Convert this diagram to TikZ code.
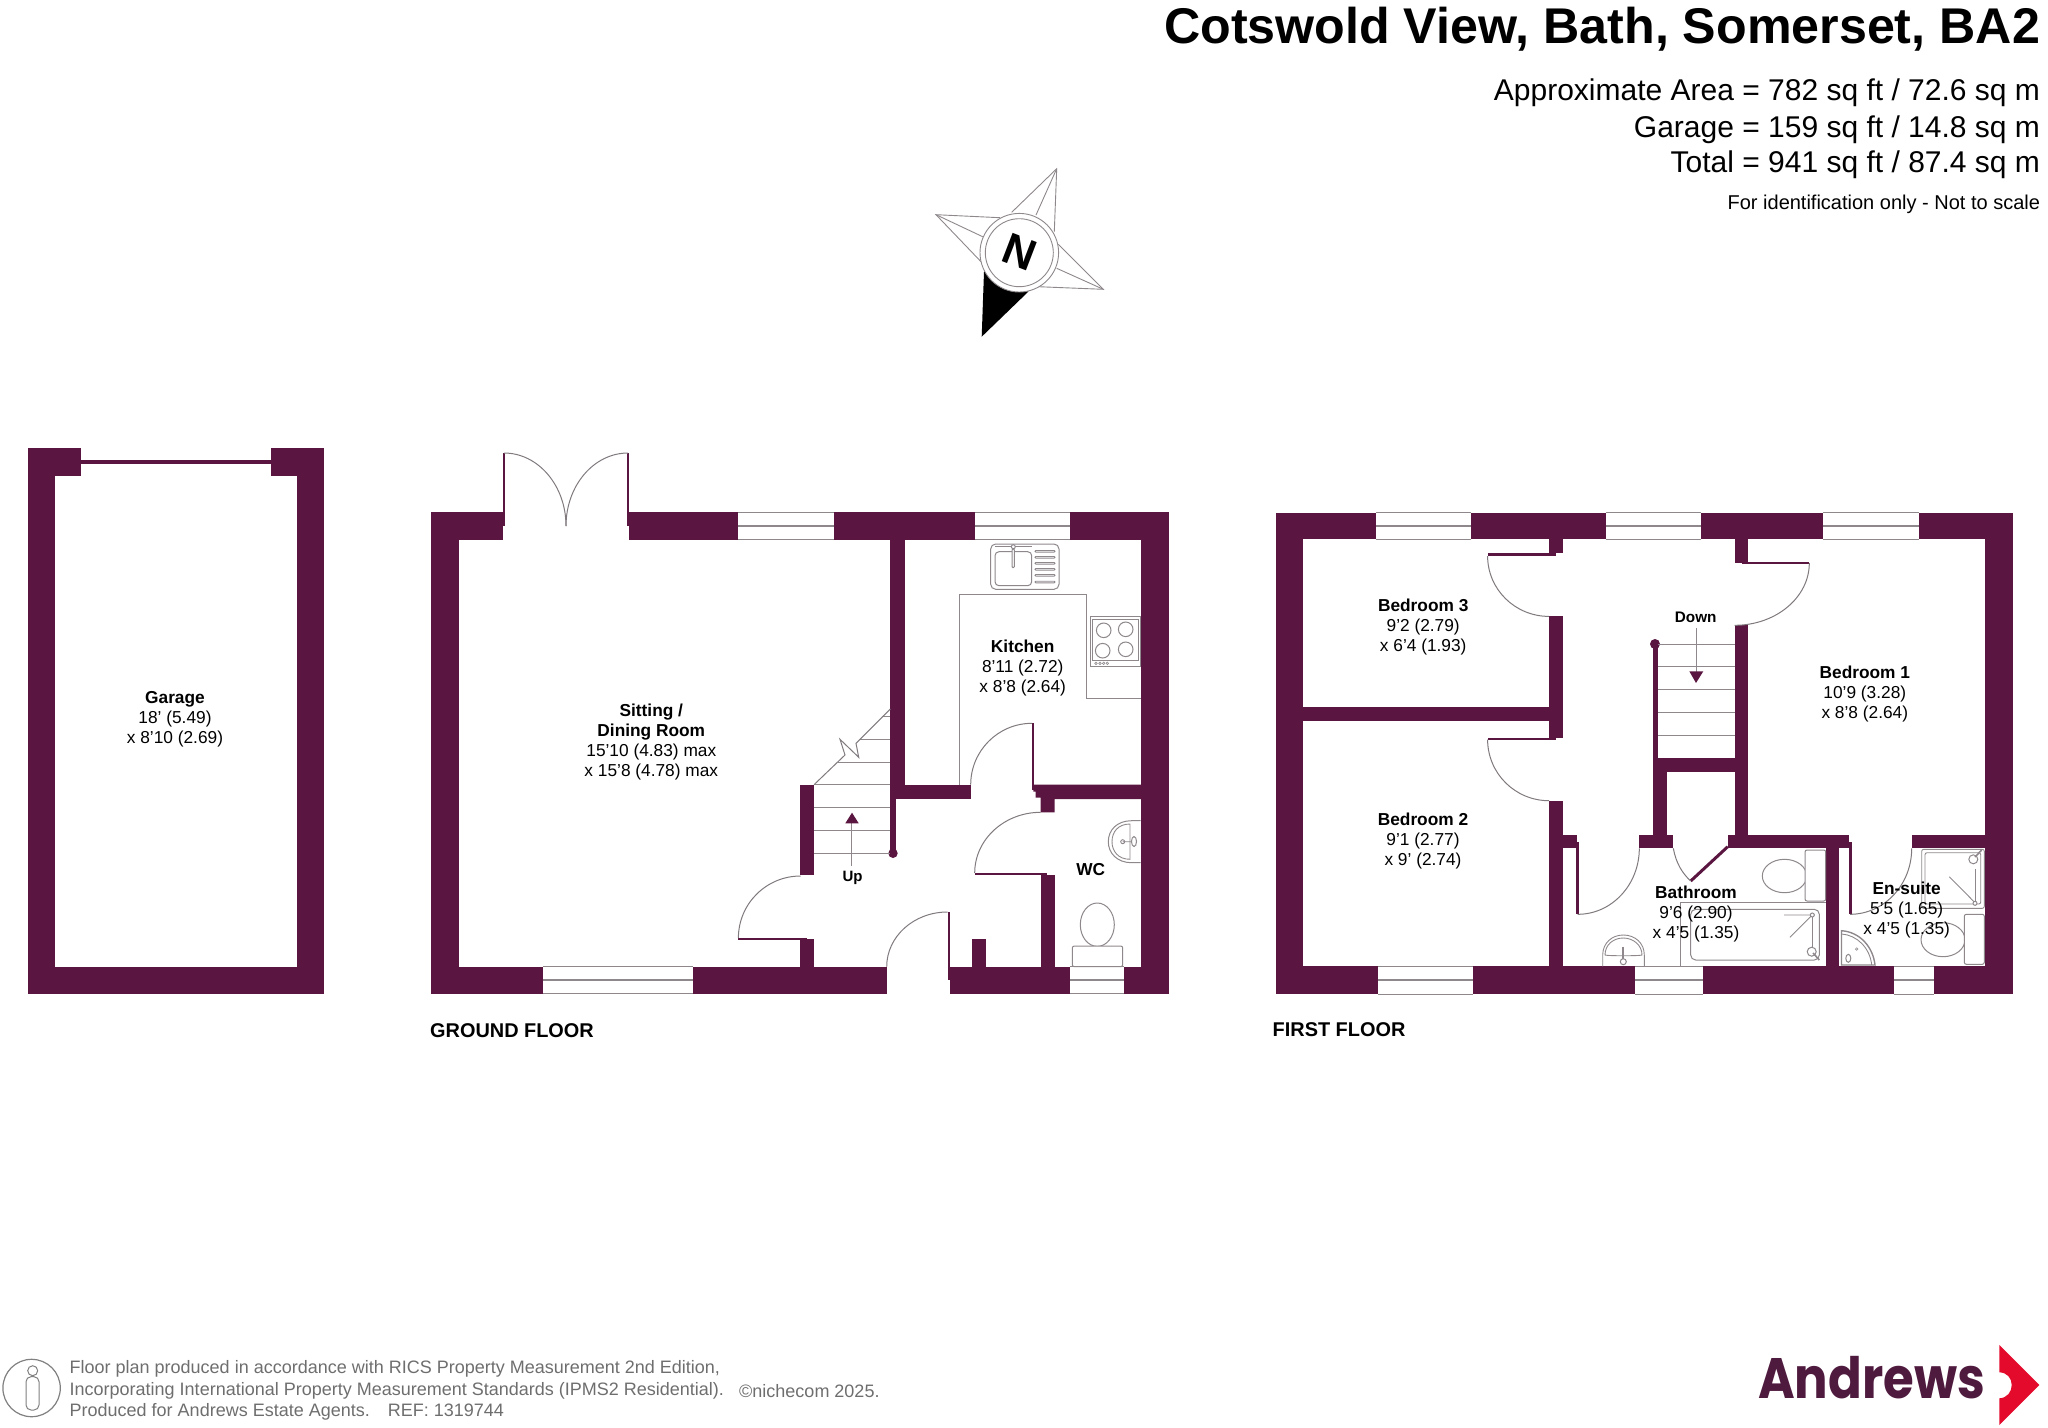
\documentclass[tikz,border=0pt]{standalone}
\usepackage{fontspec}
\setmainfont{Liberation Sans}
\newfontfamily\logofont{Poppins}
\usetikzlibrary{calc,shapes.geometric}
\definecolor{wallplum}{HTML}{5A1640}
\definecolor{fixgrey}{HTML}{8E888C}
\definecolor{footgrey}{HTML}{6E6E6E}
\definecolor{logoplum}{HTML}{4E1A3E}
\definecolor{logored}{HTML}{E30A2C}
\tikzset{
  planline/.style={draw=fixgrey,line width=0.9pt},
  doorline/.style={draw=fixgrey!90!black,line width=1pt},
  fixture/.style={draw=fixgrey,line width=1pt,fill=white},
  roomlabel/.style={align=center,inner sep=0pt,font=\fontsize{17.3}{20}\selectfont},
  floorlabel/.style={anchor=west,inner sep=0pt,font=\fontsize{19.9}{22}\selectfont\bfseries},
  headlabel/.style={anchor=east,inner sep=0pt,font=\fontsize{30}{36}\selectfont},
  footlabel/.style={anchor=west,inner sep=0pt,text=footgrey,font=\fontsize{18}{20}\selectfont}
}
\newcommand{\swing}[4]{\draw[doorline] (#1,#2) .. controls ($(#1,#2)!0.5523!(#3,#2)$) and ($(#3,#4)!0.5523!(#3,#2)$) .. (#3,#4);}
\begin{document}
\begin{tikzpicture}[x=1pt,y=-1pt]
\useasboundingbox (0,0) rectangle (2048,1427);

\foreach \xa/\ya/\xb/\yb in {28/448.3/81/475.7,271/448.3/324/475.7,28/448.3/55.3/994,296.7/448.3/324/994,28/967/324/994,81/460/271/464.3,
  431.4/512.4/503/539.6,629/512.4/738.4/539.6,834/512.4/975.2/539.6,1070.2/512.4/1168.5/539.6,
  431.4/512.4/459.3/993.5,1141/512.4/1168.5/993.5,
  431.4/966.5/543.4/993.5,693/966.5/886.7/993.5,950/966.5/1070/993.5,1124.3/966.5/1168.5/993.5,
  890.3/539.6/904.7/799,890.3/784.7/970.7/799,890.3/799/895.7/853.3,800/784.7/814/875.3,800/939/814/966.5,
  1040.7/875/1054.7/966.5,972/939/986/966.5,503/453/505/526,627/453/629/526,
  947.5/912/950/980,1032/723.3/1034/790,738.4/937.5/807/939.5,974.7/873/1046.7/875,
  1276/512.5/1376/539.3,1470.9/512.5/1605.5/539.3,1700.7/512.5/1823.4/539.3,1918.8/512.5/2012.5/539.3,
  1276/512.5/1303/994,1984.5/512.5/2012.5/994,
  1276/966.4/1378/994,1472.8/966.4/1635/994,1702.7/966.4/1893.6/994,1934/966.4/2012.5/994,
  1303/707.1/1562.5/721.4,1549/539.3/1562.5/553,1549/616.4/1562.5/738,1549/800.7/1562.5/966.4,
  1487.6/553/1556/556,1487.6/738/1556/739.5,1562/834.5/1576.7/848.3,1575.7/841.7/1579/914.3,
  1639.3/834.5/1673.3/848.3,1652.7/771.7/1666.7/834.5,1652.7/644/1658/757.7,1652.7/757.7/1748/771.7,
  1734.7/539.3/1748.3/562.7,1741.7/562/1809.3/564,1734.7/625.3/1748.3/835,1728/834.7/1848.5/848.3,
  1826/848/1839/966.4,1848.7/841.7/1851.7/914.3,1911.7/834.7/1984.5/848.3}
  \fill[wallplum] (\xa,\ya) rectangle (\xb,\yb);
\fill[wallplum] (1033.3,784.7) -- (1141,784.7) -- (1141,799) -- (1054.7,799) -- (1054.7,812.3) -- (1040.7,812.3) -- (1040.7,797.5) -- (1035.5,797.5) -- (1035.5,791.5) -- (1033.3,791.5) -- cycle;
\fill[wallplum] (893,853.3) circle (4.7pt);
\fill[wallplum] (1655,644) circle (5pt);
\draw[wallplum,line width=3pt] (1727.7,846.7) -- (1690.7,881);

\foreach \xa/\xb/\ya/\yb in {738.4/834/512.4/539.6,975.2/1070.2/512.4/539.6,543.4/693/966.5/993.5,1070/1124.3/966.5/993.5,
  1376/1470.9/512.5/539.3,1605.5/1700.7/512.5/539.3,1823.4/1918.8/512.5/539.3,
  1378/1472.8/966.4/994,1635/1702.7/966.4/994,1893.6/1934/966.4/994}{
  \draw[planline] (\xa,\ya) -- (\xb,\ya);
  \draw[planline] (\xa,\yb) -- (\xb,\yb);
  \draw[planline,line width=1.6pt] ($(\xa,\ya)!0.5!(\xa,\yb)$) -- ($(\xb,\ya)!0.5!(\xb,\yb)$);
}

\swing{504}{453}{566}{526}
\swing{628}{453}{566}{526}
\swing{947.5}{912}{886.7}{966.7}
\swing{1032}{723.3}{970.7}{784.7}
\swing{800.6}{876}{738.4}{938}
\swing{1040.7}{812.3}{974.7}{873}
\swing{1549}{616.4}{1487.6}{556}
\swing{1549}{800.7}{1487.6}{739.5}
\swing{1577.7}{914.3}{1639.3}{848.3}
\swing{1734.7}{625.3}{1809.3}{563}
\swing{1850}{914.3}{1911.7}{848.3}
\draw[doorline] (1673.3,848.3) .. controls (1676,863) and (1682,873) .. (1690.7,881);

\foreach \y in {853.3,830.3,807.7,784.7}
  \draw[planline] (814,\y) -- (890.3,\y);
\draw[planline] (838,762) -- (890.3,762);
\draw[planline] (860,739) -- (890.3,739);
\draw[planline] (881.7,716.7) -- (890.3,716.7);
\draw[doorline] (814,784.7) -- (845,755) -- (840,739.3) -- (858.7,757.3) -- (856,743.3) -- (890.3,709);
\draw[planline] (851.7,866) -- (851.7,820);
\fill[wallplum] (845.3,823.3) -- (858.7,823.3) -- (852,812.7) -- cycle;
\foreach \y in {644,666.7,689.7,712,735.3}
  \draw[planline] (1658,\y) -- (1734.7,\y);
\draw[planline] (1696,628.3) -- (1696,675);
\fill[wallplum] (1689.3,671.3) -- (1703.3,671.3) -- (1696,683) -- cycle;

\draw[planline] (959,784.7) -- (959,594) -- (1086.3,594) -- (1086.3,698.3) -- (1141,698.3);
\draw[fixture,rounded corners=5pt] (990.7,544) rectangle (1059,589.3);
\draw[fixture,rounded corners=4pt] (995,551.7) rectangle (1031.7,585.7);
\draw[planline] (995,546.7) -- (1031.7,546.7);
\draw[fixture] (1013.3,546.7) circle (2pt);
\draw[fixture,rounded corners=1pt] (1012,549) rectangle (1014.3,567.7);
\foreach \y in {551.3,557.3,563.3,569.3,575.3,582}
  \draw[planline,rounded corners=0.8pt] (1035,\y-0.8) rectangle (1055,\y+0.8);
\draw[fixture] (1090.3,616.7) rectangle (1140.7,666);
\draw[fixture] (1092.7,619) rectangle (1138.7,660);
\foreach \x/\y in {1103.7/630.3,1125.7/629.3,1102.7/650.7,1125.7/649.3}
  \draw[fixture] (\x,\y) circle (7.3pt);
\foreach \x in {1096,1100,1103.7,1107.3}
  \draw[planline,line width=0.6pt] (\x,663.3) circle (1.3pt);

\draw[fixture] (1140.7,820.7) -- (1131.7,820.7) .. controls (1117,820.7) and (1108.3,830) .. (1108.3,841.7) .. controls (1108.3,853) and (1117,862.7) .. (1131.7,862.7) -- (1140.7,862.7);
\draw[planline] (1130,824) .. controls (1118,824) and (1112,832) .. (1112,841.7) .. controls (1112,851) and (1118,859.3) .. (1130,859.3) -- cycle;
\draw[planline] (1122.7,841.7) circle (2pt) -- (1135,841.7);
\draw[fixture] (1134,841.5) ellipse[x radius=2.5pt,y radius=5pt];
\draw[fixture] (1097.3,924.7) ellipse[x radius=17pt,y radius=21.7pt];
\draw[fixture,rounded corners=2pt] (1072.3,946) rectangle (1122.7,966.7);

\draw[planline] (1680,966.4) -- (1680,902.7) -- (1825.7,902.7);
\draw[fixture,rounded corners=5pt] (1690.7,909.3) rectangle (1819.3,960);
\draw[fixture] (1784.5,876) ellipse[x radius=22.2pt,y radius=16.7pt];
\draw[fixture,rounded corners=2pt] (1805,850) rectangle (1825.7,901);
\draw[planline] (1784,915) -- (1812.3,915) -- (1790,937.3);
\draw[planline] (1812.3,915) -- (1812.3,948);
\draw[fixture] (1812.3,915) circle (2pt);
\draw[fixture] (1811.7,951.7) circle (4.5pt);
\draw[planline,line width=1.6pt] (1813,953) -- (1819.3,960);
\draw[planline] (1602.7,966.4) -- (1602.7,955) .. controls (1602.7,943) and (1612,935) .. (1623.3,935) .. controls (1635,935) and (1644.3,943) .. (1644.3,955) -- (1644.3,966.4);
\draw[planline] (1605,955) .. controls (1605,945) and (1613,938) .. (1623.3,938) .. controls (1633,938) and (1642,945) .. (1642,955) .. controls (1640,956) and (1607,956) .. (1605,955) -- cycle;
\draw[planline,line width=2pt] (1622.7,946.7) -- (1622.7,960);
\draw[fixture] (1623.3,961.7) circle (3pt);

\draw[planline,rounded corners=2pt] (1921.7,849.3) rectangle (1984.3,908.3);
\draw[planline,rounded corners=2pt] (1925,852.7) rectangle (1980.7,904);
\draw[fixture] (1973.3,859.3) circle (4.5pt);
\draw[planline,line width=1.6pt] (1975,857) -- (1981.7,850);
\draw[planline] (1975,869.3) -- (1975,901.7);
\draw[planline] (1949.3,876.7) -- (1975,902.7);
\draw[fixture] (1975,903.3) circle (2pt);
\draw[fixture] (1943,939.7) ellipse[x radius=22pt,y radius=17pt];
\draw[fixture,rounded corners=2pt] (1964.3,914.3) rectangle (1984.3,964.3);
\draw[planline,line width=1.4pt] (1841.5,930.7) .. controls (1860,932) and (1873,947) .. (1875,965) -- (1841.5,965) -- cycle;
\draw[planline] (1841.5,934) .. controls (1857,935) and (1870,948) .. (1871.7,965);
\draw[fixture] (1848.3,958.3) ellipse[x radius=2.5pt,y radius=4pt];
\draw[planline,line width=0.6pt] (1856.7,949) circle (1.3pt);

\node[roomlabel] (garage) at (175,719.5) {\textbf{Garage}\\18' (5.49)\\x 8'10 (2.69)};
\node[roomlabel] (sitting) at (651.3,741.8) {\textbf{Sitting /}\\\textbf{Dining Room}\\15'10 (4.83) max\\x 15'8 (4.78) max};
\node[roomlabel] (kitchen) at (1022.7,668) {\textbf{Kitchen}\\8'11 (2.72)\\x 8'8 (2.64)};
\node[roomlabel] (wc) at (1090.7,870) {\textbf{WC}};
\node[inner sep=0pt,font=\fontsize{15}{16}\selectfont\bfseries] (up) at (852.5,878) {Up};
\node[inner sep=0pt,font=\fontsize{15.3}{16}\selectfont\bfseries] (down) at (1695.7,617) {Down};
\node[roomlabel] (bedthree) at (1423.2,626.7) {\textbf{Bedroom 3}\\9'2 (2.79)\\x 6'4 (1.93)};
\node[roomlabel] (bedtwo) at (1423,840.9) {\textbf{Bedroom 2}\\9'1 (2.77)\\x 9' (2.74)};
\node[roomlabel] (bedone) at (1864.8,694.5) {\textbf{Bedroom 1}\\10'9 (3.28)\\x 8'8 (2.64)};
\node[roomlabel] (bathroom) at (1696,914) {\textbf{Bathroom}\\9'6 (2.90)\\x 4'5 (1.35)};
\node[roomlabel] (ensuite) at (1906.7,910.5) {\textbf{En-suite}\\5'5 (1.65)\\x 4'5 (1.35)};
\node[floorlabel] (groundfloor) at (430,1031) {GROUND FLOOR};
\node[floorlabel] (firstfloor) at (1272.5,1029.5) {FIRST FLOOR};

\node[headlabel,font=\fontsize{50.2}{56}\selectfont\bfseries] (title) at (2040.2,29.5) {Cotswold View, Bath, Somerset, BA2};
\node[headlabel] (area) at (2040.2,93) {Approximate Area = 782 sq ft / 72.6 sq m};
\node[headlabel] (garagearea) at (2040.2,129.5) {Garage = 159 sq ft / 14.8 sq m};
\node[headlabel] (total) at (2040.2,165) {Total = 941 sq ft / 87.4 sq m};
\node[headlabel,font=\fontsize{20}{24}\selectfont] (notscale) at (2040.2,204) {For identification only - Not to scale};

\draw[planline] (1011.7,212.3) -- (1056.7,168.7) -- (1054.3,231.7);
\draw[planline] (1036,215) -- (1056.7,168.7);
\draw[planline] (1000,217.7) -- (936,214.7) -- (981,261.7);
\draw[planline] (982.7,236.7) -- (936,214.7);
\draw[planline] (1058.3,244.3) -- (1103.3,289.3) -- (1038.3,286.7);
\draw[planline] (1056.7,268.3) -- (1103.3,289.3);
\fill[black] (984,271.7) -- (981.7,336.7) -- (1028.3,291.7) -- (1019.3,252.7) -- cycle;
\draw[planline,fill=white] (1019.3,252.7) circle (39.3pt);
\draw[planline] (1019.3,252.7) circle (34pt);
\node[inner sep=0pt,rotate=-21,font=\fontsize{44}{44}\selectfont\bfseries] (north) at (1019.3,252) {N};

\draw[draw=gray,line width=1.2pt] (31.6,1388) circle (28.7pt);
\draw[draw=gray,line width=1pt] (32.7,1370.7) circle (5pt);
\draw[draw=gray,line width=1pt,rounded corners=5pt] (26,1376.7) rectangle (39,1410);
\node[footlabel] (footone) at (69.5,1369) {Floor plan produced in accordance with RICS Property Measurement 2nd Edition,};
\node[footlabel] (foottwo) at (69.5,1391) {Incorporating International Property Measurement Standards (IPMS2 Residential).};
\node[footlabel] (nichecom) at (739,1391) {©nichecom 2025.};
\node[footlabel] (footthree) at (69.5,1412) {Produced for Andrews Estate Agents.\quad REF: 1319744};

\node[anchor=base west,inner sep=0pt,text=logoplum,font=\logofont\fontsize{57}{60}\selectfont\bfseries] (andrews) at (1758,1398.3) {\scalebox{0.873}[1]{Andrews}};
\fill[logored] (1999.3,1345) -- (2039.3,1385) -- (1999.3,1425) -- (1999.3,1398.3) .. controls (2007,1398) and (2011.7,1392) .. (2011.7,1385) .. controls (2011.7,1378) and (2007,1372.5) .. (1999.3,1372.3) -- cycle;
\end{tikzpicture}
\end{document}
